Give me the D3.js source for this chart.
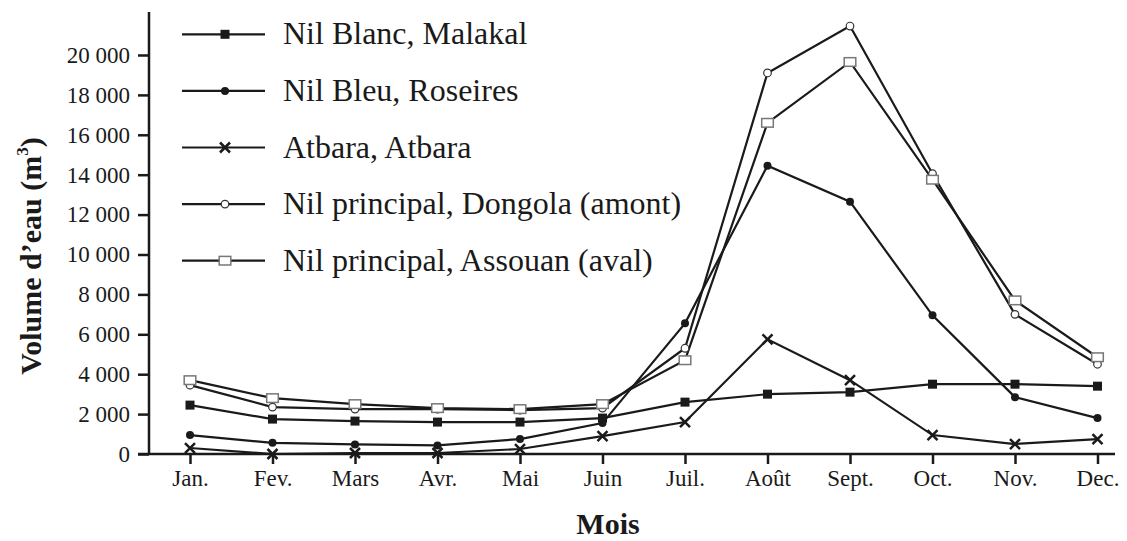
<!DOCTYPE html>
<html>
<head>
<meta charset="utf-8">
<script src="https://cdn.jsdelivr.net/npm/d3@7"></script>
<style>
  body { margin: 0; background: #fff; }
  svg { display: block; }
  text { font-family: "Liberation Serif", "Times New Roman", serif; fill: #1a1a1a; }
</style>
</head>
<body>
<div id="chart"></div>
<script>
const WIDTH = 1127;
const HEIGHT = 541;

var months = ["Jan.", "Fev.", "Mars", "Avr.", "Mai", "Juin", "Juil.", "Août", "Sept.", "Oct.", "Nov.", "Dec."];
var yTicks = [0, 2000, 4000, 6000, 8000, 10000, 12000, 14000, 16000, 18000, 20000];

var malakal  = [2450, 1750, 1650, 1600, 1600, 1800, 2600, 3000, 3100, 3500, 3500, 3400];
var roseires = [950, 560, 480, 430, 750, 1550, 6550, 14450, 12650, 6950, 2850, 1800];
var atbara   = [300, 0, 50, 50, 250, 900, 1600, 5750, 3700, 950, 500, 750];
var dongola  = [3450, 2350, 2250, 2250, 2200, 2300, 5300, 19100, 21450, 14050, 7000, 4500];
var assouan  = [3700, 2800, 2500, 2300, 2250, 2500, 4700, 16600, 19650, 13750, 7700, 4850];

var seriesNames = ["Nil Blanc, Malakal", "Nil Bleu, Roseires", "Atbara, Atbara",
                   "Nil principal, Dongola (amont)", "Nil principal, Assouan (aval)"];
var seriesValues = [malakal, roseires, atbara, dongola, assouan];
var seriesMarks = ["square", "dot", "cross", "circle", "rect"];

var ink = "#1a1a1a";
var serif = "'Liberation Serif', 'Times New Roman', serif";

var x = d3.scalePoint().domain(months).range([190, 1097.5]);
var y = d3.scaleLinear().domain([0, 20000]).range([454, 55]);

var svg = d3.select("#chart").append("svg")
    .attr("width", WIDTH)
    .attr("height", HEIGHT);

// axes
var yAxis = svg.append("g")
    .attr("transform", "translate(149,0)")
    .attr("font-family", serif)
    .call(d3.axisLeft(y).tickValues(yTicks).tickSize(11).tickPadding(8)
      .tickFormat(d => d === 0 ? "0" : d3.format(",")(d).replace(",", " ")));
yAxis.select(".domain").remove();
yAxis.selectAll(".tick line").attr("stroke", ink).attr("stroke-width", 2.5);
yAxis.selectAll(".tick text").attr("font-size", 23).style("font-family", serif).attr("fill", ink);

var xAxis = svg.append("g")
    .attr("transform", "translate(0,454)")
    .attr("font-family", serif)
    .call(d3.axisBottom(x).tickSize(10).tickPadding(6));
xAxis.select(".domain").remove();
xAxis.selectAll(".tick line").attr("stroke", ink).attr("stroke-width", 2.5);
xAxis.selectAll(".tick text").attr("font-size", 23).style("font-family", serif).attr("fill", ink);

svg.append("line")
    .attr("x1", 149).attr("x2", 149).attr("y1", 12).attr("y2", 455)
    .attr("stroke", ink).attr("stroke-width", 2.5);
svg.append("line")
    .attr("x1", 138).attr("x2", 1115).attr("y1", 454).attr("y2", 454)
    .attr("stroke", ink).attr("stroke-width", 2.5);

var ytitle = svg.append("text")
    .attr("transform", "translate(41,256) rotate(-90)")
    .attr("text-anchor", "middle")
    .attr("font-size", 30)
    .attr("font-weight", "bold");
ytitle.append("tspan").text("Volume d\u2019eau (m");
ytitle.append("tspan").attr("font-size", 17).attr("dy", -13).text("3");
ytitle.append("tspan").attr("dy", 13).text(")");

svg.append("text")
    .attr("x", 608).attr("y", 534)
    .attr("text-anchor", "middle")
    .attr("font-size", 30)
    .attr("font-weight", "bold")
    .text("Mois");

function drawMark(g, kind, cx, cy) {
  if (kind == "square") {
    g.append("rect").attr("x", cx - 4.5).attr("y", cy - 4.5).attr("width", 9).attr("height", 9)
      .attr("fill", ink);
  } else if (kind == "dot") {
    g.append("circle").attr("cx", cx).attr("cy", cy).attr("r", 4).attr("fill", ink);
  } else if (kind == "cross") {
    g.append("path").attr("d", `M${cx-5},${cy-5}L${cx+5},${cy+5}M${cx-5},${cy+5}L${cx+5},${cy-5}`)
      .attr("stroke", ink).attr("stroke-width", 2.5).attr("fill", "none");
  } else if (kind == "circle") {
    g.append("circle").attr("cx", cx).attr("cy", cy).attr("r", 3.8)
      .attr("fill", "#fff").attr("stroke", "#333").attr("stroke-width", 1.2);
  } else {
    g.append("rect").attr("x", cx - 5.8).attr("y", cy - 4.3).attr("width", 11.6).attr("height", 8.6)
      .attr("fill", "#fff").attr("stroke", "#777").attr("stroke-width", 1.5);
  }
}

var line = d3.line().x((d, i) => x(months[i])).y(d => y(d));

var plot = svg.append("g");
seriesValues.forEach((vals) => {
  plot.append("path")
      .datum(vals)
      .attr("d", line)
      .attr("fill", "none")
      .attr("stroke", ink)
      .attr("stroke-width", 2.2);
});
seriesValues.forEach((vals, s) => {
  var g = plot.append("g");
  vals.forEach((v, i) => drawMark(g, seriesMarks[s], x(months[i]), y(v)));
});

// legend
var legend = svg.append("g");
seriesNames.forEach((name, s) => {
  var ly = 34.3 + s * 56.6;
  legend.append("line")
      .attr("x1", 182).attr("x2", 265).attr("y1", ly).attr("y2", ly)
      .attr("stroke", ink).attr("stroke-width", 2.2);
  drawMark(legend, seriesMarks[s], 225, ly);
  legend.append("text")
      .attr("x", 283).attr("y", ly + 10)
      .attr("font-size", 32)
      .text(name);
});
</script>
</body>
</html>
